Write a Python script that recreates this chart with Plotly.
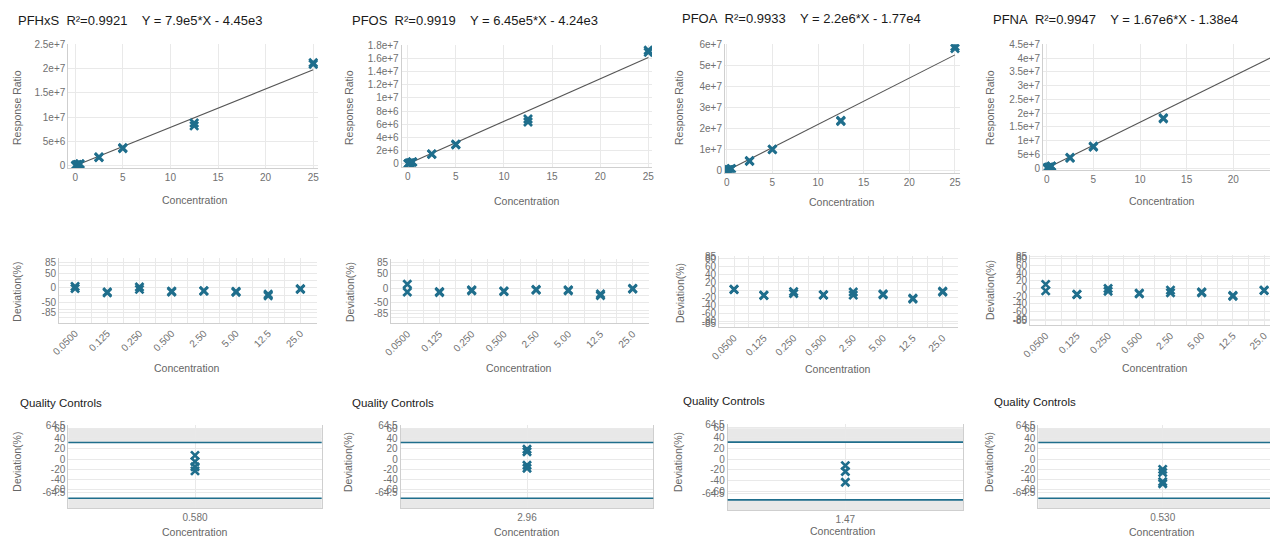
import plotly.graph_objects as go

OFF = 8  # page body margin in the browser
W, H = 1292, 537 - OFF
MARK = "#1f6e8c"
GRID = "#e9e9e9"
AXLINE = "#cfcfcf"
TICKC = "#707070"
LABC = "#666666"
FONT = "Liberation Sans, Arial, sans-serif"

# ---------------- data ----------------
concentrations = [0.05, 0.125, 0.25, 0.5, 2.5, 5.0, 12.5, 25.0]
conc_labels = ["0.0500", "0.125", "0.250", "0.500", "2.50", "5.00", "12.5", "25.0"]
compounds = ["PFHxS", "PFOS", "PFOA", "PFNA"]
r_squared = ["0.9921", "0.9919", "0.9933", "0.9947"]
equations = ["7.9e5*X - 4.45e3", "6.45e5*X - 4.24e3", "2.2e6*X - 1.77e4", "1.67e6*X - 1.38e4"]
slopes = [7.9e5, 6.45e5, 2.2e6, 1.67e6]
intercepts = [-4.45e3, -4.24e3, -1.77e4, -1.38e4]
fit_x = [0.0, 25.0]

pfhxs_resp_a = [4.0e4, 9.0e4, 2.0e5, 3.6e5, 1.80e6, 3.70e6, 8.8e6, 2.12e7]
pfhxs_resp_b = [3.8e4, 8.5e4, 1.9e5, 3.4e5, 1.70e6, 3.55e6, 8.2e6, 2.09e7]
pfos_resp_a = [3.6e4, 7.0e4, 1.5e5, 3.0e5, 1.52e6, 2.98e6, 6.8e6, 1.72e7]
pfos_resp_b = [2.8e4, 6.6e4, 1.45e5, 2.9e5, 1.48e6, 2.90e6, 6.35e6, 1.69e7]
pfoa_resp_a = [1.1e5, 2.2e5, 5.0e5, 9.5e5, 4.8e6, 1.02e7, 2.38e7, 5.9e7]
pfoa_resp_b = [1.0e5, 2.1e5, 4.7e5, 9.0e5, 4.5e6, 1.00e7, 2.34e7, 5.8e7]
pfna_resp_a = [9.0e4, 1.8e5, 4.1e5, 7.5e5, 3.9e6, 8.0e6, 1.83e7, 4.38e7]
pfna_resp_b = [8.0e4, 1.7e5, 3.9e5, 7.2e5, 3.7e6, 7.7e6, 1.80e7, 4.33e7]

pfhxs_dev_a = [5, -14, 3, -11, -10, -12, -22, -3]
pfhxs_dev_b = [-2, -17, -5, -14, -11, -15, -27, -5]
pfos_dev_a = [13, -12, -6, -10, -5, -6, -20, -1]
pfos_dev_b = [-13, -15, -9, -12, -7, -9, -25, -3]
pfoa_dev_a = [2, -13, -4, -12, -5, -10, -21, -3]
pfoa_dev_b = [1, -14, -9, -13, -13, -12, -23, -5]
pfna_dev_a = [11, -15, 0, -12, -4, -9, -18, -4]
pfna_dev_b = [-6, -16, -7, -14, -11, -11, -20, -5]

qc_labels = ["0.580", "2.96", "1.47", "0.530"]
pfhxs_qc_dev = [7, -5, -15, -23]
pfos_qc_dev = [19, 14, -12, -18]
pfoa_qc_dev = [-12, -23, -43]
pfna_qc_dev = [-20, -26, -44, -48]
qc_upper_limit = 32
qc_lower_limit = -76
qc_band_top = 58

cal_ytickvals = [
    [0, 5e6, 1e7, 1.5e7, 2e7, 2.5e7],
    [0, 2e6, 4e6, 6e6, 8e6, 1e7, 1.2e7, 1.4e7, 1.6e7, 1.8e7],
    [0, 1e7, 2e7, 3e7, 4e7, 5e7, 6e7],
    [0, 5e6, 1e7, 1.5e7, 2e7, 2.5e7, 3e7, 3.5e7, 4e7, 4.5e7],
]
cal_yticktext = [
    ["0", "5e+6", "1e+7", "1.5e+7", "2e+7", "2.5e+7"],
    ["0", "2e+6", "4e+6", "6e+6", "8e+6", "1e+7", "1.2e+7", "1.4e+7", "1.6e+7", "1.8e+7"],
    ["0", "1e+7", "2e+7", "3e+7", "4e+7", "5e+7", "6e+7"],
    ["0", "5e+6", "1e+7", "1.5e+7", "2e+7", "2.5e+7", "3e+7", "3.5e+7", "4e+7", "4.5e+7"],
]
cal_xticks = [0, 5, 10, 15, 20, 25]

dev_ticks_wide = [-85, -50, 0, 50, 85]
dev_grid_wide = [-100, -75, -25, 25, 75, 100]
dev_ticks_fine = [-85, -80, -60, -40, -20, 0, 20, 40, 60, 80, 85]
qc_ticks = [-64.5, -60, -40, -20, 0, 20, 40, 60, 64.5]

responses = [(pfhxs_resp_a, pfhxs_resp_b), (pfos_resp_a, pfos_resp_b),
             (pfoa_resp_a, pfoa_resp_b), (pfna_resp_a, pfna_resp_b)]
deviations = [(pfhxs_dev_a, pfhxs_dev_b), (pfos_dev_a, pfos_dev_b),
              (pfoa_dev_a, pfoa_dev_b), (pfna_dev_a, pfna_dev_b)]
qc_devs = [pfhxs_qc_dev, pfos_qc_dev, pfoa_qc_dev, pfna_qc_dev]

# ---------------- geometry (pixels in the 1278x537 window) ----------------
cal_geom = [
    (68.3, 318.0, 44.3, 168.3, [-0.72, 25.5], [-5.35e5, 2.5e7]),
    (401.7, 652.0, 45.0, 166.7, [-0.62, 25.38], [-4.1e5, 1.8e7]),
    (725.0, 960.0, 44.3, 172.5, [-0.19, 25.55], [-8.5e5, 6e7]),
    (1043.0, 1286.0, 44.3, 170.3, [-0.4, 25.65], [-7.3e5, 4.5e7]),
]
dev_geom = [
    (59.0, 316.5, 258.3, 322.7, [-0.5, 7.5], [-119, 101]),
    (391.2, 648.8, 258.5, 323.3, [-0.5, 7.5], [-119, 100]),
    (719.1, 957.6, 256.0, 327.3, [-0.5, 7.5], [-95, 86.7]),
    (1030.1, 1279.7, 255.0, 325.0, [-0.5, 7.5], [-95.5, 88]),
]
qc_geom = [
    (68.3, 321.7, 425.0, 508.0, [-0.5, 0.5], [-95, 66]),
    (400.7, 653.3, 425.0, 508.0, [-0.5, 0.5], [-95, 66]),
    (727.7, 963.0, 424.0, 510.0, [-0.5, 0.5], [-95, 66]),
    (1038.3, 1287.1, 425.0, 508.0, [-0.5, 0.5], [-95, 66]),
]
title_pos = [(16, 20.7), (350, 20.7), (680, 18.3), (990.5, 19.3)]
cal_ytitle = [(17, 108), (349, 108), (679, 108), (990, 108)]
cal_xtitle = [(195, 200), (526.7, 201), (841.7, 202), (1162, 201)]
dev_ytitle = [(17, 291.7), (349.3, 291.7), (680, 293), (990, 290)]
dev_xtitle = [(186.7, 367.7), (519, 367.7), (838, 369), (1155, 367.7)]
qc_title = [(17.5, 403), (349.5, 403), (680.5, 401), (991.5, 402)]
qc_ytitle = [(17, 461.7), (348, 462), (678, 462), (989, 462)]
qc_xtitle = [(195, 531.5), (526.7, 531.5), (842.7, 530.5), (1162, 531.5)]


def fx(px):
    return (px - OFF) / W


def fy(py):
    return 1 - (py - OFF) / H


fig = go.Figure()
layout = dict(
    template="none",
    width=W, height=H, autosize=False, margin=dict(l=0, r=0, t=0, b=0, pad=0),
    paper_bgcolor="white", plot_bgcolor="white", showlegend=False,
    font=dict(family=FONT, size=10, color=TICKC),
)
annotations = []
shapes = []

marker = dict(symbol="x-thin", size=8, color=MARK, line=dict(color=MARK, width=2.7))


def axis_common(rng, domain, anchor):
    return dict(domain=domain, range=rng, anchor=anchor, autorange=False, automargin=False,
                showgrid=True, gridcolor=GRID, gridwidth=1, zeroline=False,
                showline=True, linecolor=AXLINE, linewidth=1, ticks="",
                tickfont=dict(size=10, color=TICKC), fixedrange=True)


def add_text(x, y, text, size, color, angle=0, xanchor="center"):
    annotations.append(dict(x=fx(x), y=fy(y), xref="paper", yref="paper", text=text,
                            showarrow=False, textangle=angle, xanchor=xanchor,
                            yanchor="middle", font=dict(size=size, color=color, family=FONT)))


for i in range(4):
    # ---------- calibration ----------
    k = i + 1
    x0, x1, yt, yb, xr, yr = cal_geom[i]
    xa = axis_common(xr, [fx(x0), min(1.0, fx(x1))], "y%d" % k)
    xa.update(tickvals=cal_xticks, ticktext=[str(v) for v in cal_xticks])
    ya = axis_common(yr, [fy(yb), fy(yt)], "x%d" % k)
    ya.update(tickvals=cal_ytickvals[i], ticktext=cal_yticktext[i])
    layout["xaxis%d" % k] = xa
    layout["yaxis%d" % k] = ya
    ra, rb = responses[i]
    fig.add_trace(go.Scatter(x=fit_x, y=[slopes[i] * v + intercepts[i] for v in fit_x],
                             mode="lines", line=dict(color="#555555", width=1.1),
                             xaxis="x%d" % k, yaxis="y%d" % k, hoverinfo="skip"))
    fig.add_trace(go.Scatter(x=concentrations + concentrations, y=ra + rb, mode="markers",
                             marker=marker, xaxis="x%d" % k, yaxis="y%d" % k))
    tx, ty = title_pos[i]
    add_text(tx, ty, compounds[i] + "\u00a0 R\u00b2=" + r_squared[i] + "\u00a0\u00a0\u00a0 Y = " + equations[i],
             13, "#1a1a1a", xanchor="left")
    add_text(*cal_ytitle[i], "Response Ratio", 10.5, LABC, angle=-90)
    add_text(*cal_xtitle[i], "Concentration", 10.5, LABC)

    # ---------- deviation ----------
    k = i + 5
    x0, x1, yt, yb, xr, yr = dev_geom[i]
    idx = list(range(len(conc_labels)))
    xa = axis_common(xr, [fx(x0), min(1.0, fx(x1))], "y%d" % k)
    xa.update(tickvals=idx, ticktext=conc_labels, tickangle=-45,
              minor=dict(tickvals=[v + 0.5 for v in idx], showgrid=True, gridcolor=GRID, ticks=""))
    ya = axis_common(yr, [fy(yb), fy(yt)], "x%d" % k)
    if i < 2:
        ya.update(tickvals=dev_ticks_wide, ticktext=[str(v) for v in dev_ticks_wide],
                  minor=dict(tickvals=dev_grid_wide, showgrid=True, gridcolor=GRID, ticks=""))
    else:
        ya.update(tickvals=dev_ticks_fine, ticktext=[str(v) for v in dev_ticks_fine])
    layout["xaxis%d" % k] = xa
    layout["yaxis%d" % k] = ya
    da, db = deviations[i]
    fig.add_trace(go.Scatter(x=idx + idx, y=da + db, mode="markers", marker=marker,
                             xaxis="x%d" % k, yaxis="y%d" % k))
    add_text(*dev_ytitle[i], "Deviation(%)", 10.5, LABC, angle=-90)
    add_text(*dev_xtitle[i], "Concentration", 10.5, LABC)

    # ---------- quality controls ----------
    k = i + 9
    x0, x1, yt, yb, xr, yr = qc_geom[i]
    xa = axis_common(xr, [fx(x0), min(1.0, fx(x1))], "y%d" % k)
    xa.update(tickvals=[0], ticktext=[qc_labels[i]])
    ya = axis_common(yr, [fy(yb), fy(yt)], "x%d" % k)
    ya.update(tickvals=qc_ticks, ticktext=[("%g" % v) for v in qc_ticks], mirror=True)
    layout["xaxis%d" % k] = xa
    layout["yaxis%d" % k] = ya
    shapes.append(dict(type="rect", xref="x%d domain" % k, yref="y%d" % k, x0=0, x1=1,
                       y0=qc_upper_limit, y1=qc_band_top, fillcolor="#e8e8e8",
                       line=dict(width=0), layer="below"))
    shapes.append(dict(type="rect", xref="x%d domain" % k, yref="y%d" % k, x0=0, x1=1,
                       y0=yr[0], y1=qc_lower_limit, fillcolor="#e8e8e8",
                       line=dict(width=0), layer="below"))
    for lim in (qc_upper_limit, qc_lower_limit):
        shapes.append(dict(type="line", xref="x%d domain" % k, yref="y%d" % k, x0=0, x1=1,
                           y0=lim, y1=lim, line=dict(color=MARK, width=1.6), layer="above"))
    q = qc_devs[i]
    fig.add_trace(go.Scatter(x=[0] * len(q), y=q, mode="markers", marker=marker,
                             xaxis="x%d" % k, yaxis="y%d" % k))
    add_text(*qc_title[i], "Quality Controls", 11.5, "#1a1a1a", xanchor="left")
    add_text(*qc_ytitle[i], "Deviation(%)", 10.5, LABC, angle=-90)
    add_text(*qc_xtitle[i], "Concentration", 10.5, LABC)

layout["annotations"] = annotations
layout["shapes"] = shapes
fig.update_layout(**layout)
fig.write_html("out.html")
